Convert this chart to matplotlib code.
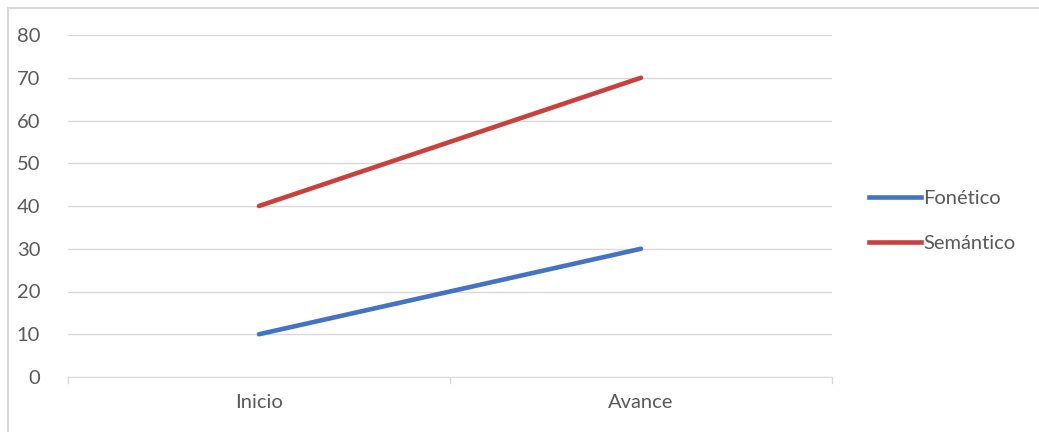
import matplotlib
matplotlib.use('Agg')
import matplotlib.pyplot as plt
from matplotlib.lines import Line2D

# datos
categorias = ['Inicio', 'Avance']
fonetico = [10, 30]
semantico = [40, 70]
yticks = [0, 10, 20, 30, 40, 50, 60, 70, 80]

plt.rcParams['font.family'] = ['Lato', 'DejaVu Sans']

fig = plt.figure(figsize=(10.39, 4.32), dpi=100)
ax = fig.add_axes([68 / 1039, 55 / 432, (832 - 68) / 1039, (377 - 35) / 432])

x = range(len(categorias))
ax.plot(x, fonetico, color='#4472C4', linewidth=3.3, solid_capstyle='round', label='Fonético')
ax.plot(x, semantico, color='#C9403C', linewidth=3.3, solid_capstyle='round', label='Semántico')

ax.set_xlim(-0.5, len(categorias) - 0.5)
ax.set_ylim(0, 80)
ax.set_yticks(yticks)
ax.set_xticks(list(x))
ax.set_xticklabels(categorias)
ax.yaxis.grid(True, color='#D9D9D9', linewidth=1)
ax.set_axisbelow(True)

for s in ['top', 'right', 'left']:
    ax.spines[s].set_visible(False)
ax.spines['bottom'].set_color('#D9D9D9')
ax.tick_params(axis='y', length=0, pad=20, labelsize=14.5, labelcolor='#595959')
ax.tick_params(axis='x', length=0, pad=12, labelsize=14.5, labelcolor='#595959')

# marcas entre categorias
for b in [-0.5, 0.5, 1.5]:
    ax.plot([b, b], [0, -1.5], color='#D9D9D9', linewidth=1, clip_on=False)

handles = [Line2D([], [], color='#4472C4', linewidth=3.3),
           Line2D([], [], color='#C9403C', linewidth=3.3)]
fig.legend(handles, ['Fonético', 'Semántico'], loc='center left',
           bbox_to_anchor=(851 / 1039, 211 / 432), frameon=False, fontsize=14.5,
           labelcolor='#595959', handlelength=2.6, handletextpad=0.1,
           labelspacing=1.4)

# borde del grafico
fig.add_artist(Line2D([8 / 1039, 1], [1 - 8 / 432, 1 - 8 / 432], color='#D9D9D9', linewidth=1.5))
fig.add_artist(Line2D([8 / 1039, 8 / 1039], [0, 1 - 8 / 432], color='#D9D9D9', linewidth=1.5))

fig.savefig('out.png', dpi=100)
